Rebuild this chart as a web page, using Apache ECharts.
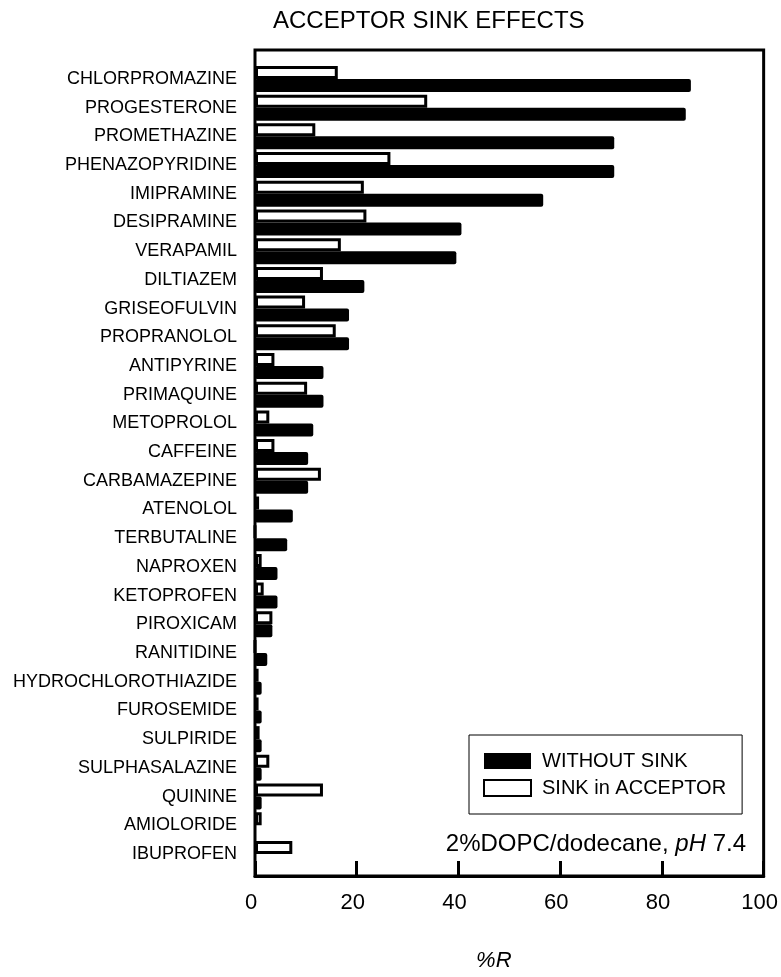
<!DOCTYPE html>
<html>
<head>
<meta charset="utf-8">
<title>Acceptor sink effects</title>
<script src="https://cdn.jsdelivr.net/npm/echarts@6/dist/echarts.min.js"></script>
<style>
  html, body { margin: 0; padding: 0; background: #fff; }
  #chart { width: 781px; height: 977px; }
</style>
</head>
<body>
<div id="chart"></div>
<script>
const categories = ['CHLORPROMAZINE', 'PROGESTERONE', 'PROMETHAZINE', 'PHENAZOPYRIDINE', 'IMIPRAMINE',
  'DESIPRAMINE', 'VERAPAMIL', 'DILTIAZEM', 'GRISEOFULVIN', 'PROPRANOLOL', 'ANTIPYRINE', 'PRIMAQUINE',
  'METOPROLOL', 'CAFFEINE', 'CARBAMAZEPINE', 'ATENOLOL', 'TERBUTALINE', 'NAPROXEN', 'KETOPROFEN',
  'PIROXICAM', 'RANITIDINE', 'HYDROCHLOROTHIAZIDE', 'FUROSEMIDE', 'SULPIRIDE', 'SULPHASALAZINE',
  'QUININE', 'AMIOLORIDE', 'IBUPROFEN'];
const withoutSink = [85.3, 84.3, 70.3, 70.3, 56.4, 40.4, 39.4, 21.4, 18.4, 18.4, 13.4, 13.4, 11.4, 10.4,
  10.4, 7.4, 6.3, 4.4, 4.4, 3.4, 2.4, 1.3, 1.3, 1.3, 1.3, 1.3, 0, 0];
const sinkInAcceptor = [16.2, 33.7, 11.8, 26.5, 21.3, 21.8, 16.8, 13.3, 9.8, 15.8, 3.8, 10.2, 2.8, 3.8,
  12.9, 0.8, 0, 1.3, 1.7, 3.4, 0, 0.7, 0.7, 0.9, 2.8, 13.3, 1.3, 7.3];
const xTicks = [0, 20, 40, 60, 80, 100];

const font = "'Liberation Sans', Arial, sans-serif";
const myChart = echarts.init(document.getElementById('chart'));

myChart.setOption({
  animation: false,
  textStyle: { fontFamily: font, color: '#000' },
  title: [
    {
      text: 'ACCEPTOR SINK EFFECTS',
      left: 273, top: 9, padding: 0,
      textStyle: { fontFamily: font, fontSize: 24, fontWeight: 'normal', color: '#000' }
    },
    {
      text: '{a|2%DOPC/dodecane, }{b|pH}{a| 7.4}',
      right: 35, top: 832, padding: 0,
      textStyle: {
        fontWeight: 'normal',
        rich: {
          a: { fontFamily: font, fontSize: 24, fontWeight: 'normal', color: '#000' },
          b: { fontFamily: font, fontSize: 24, fontWeight: 'normal', fontStyle: 'italic', color: '#000' }
        }
      }
    }
  ],
  legend: {
    data: ['WITHOUT SINK', 'SINK in ACCEPTOR'],
    orient: 'vertical',
    left: 469, top: 735,
    padding: [16, 16, 16, 14],
    borderColor: '#000', borderWidth: 1,
    icon: 'rect',
    itemWidth: 47, itemHeight: 16, itemGap: 7,
    textStyle: { fontFamily: font, fontSize: 20, color: '#000', lineHeight: 20, padding: [0, 0, 0, 6] }
  },
  grid: [
    // outer frame
    { left: 255, right: 15, top: 50, bottom: 94, show: true, borderColor: '#000', borderWidth: 3 },
    // bar area, inset by half a band top and bottom
    { left: 255, right: 15, top: 64.6, bottom: 108.7 }
  ],
  xAxis: [
    {
      gridIndex: 0, type: 'value', min: 0, max: 100, interval: 20,
      name: '%R', nameLocation: 'middle', nameGap: 74,
      nameTextStyle: { fontFamily: font, fontSize: 22, fontStyle: 'italic', color: '#000', padding: [0, 31, 0, 0] },
      axisLine: { lineStyle: { color: '#000', width: 3 } },
      axisTick: { inside: true, length: 15, lineStyle: { color: '#000', width: 3 } },
      axisLabel: {
        fontFamily: font, fontSize: 22, color: '#000', margin: 16, padding: [0, 8, 0, 0],
        formatter: v => (xTicks.includes(v) ? String(v) : '')
      },
      splitLine: { show: false }
    },
    { gridIndex: 1, type: 'value', min: 0, max: 100, show: false }
  ],
  yAxis: [
    { gridIndex: 0, type: 'value', show: false },
    {
      gridIndex: 1, type: 'category', data: categories, inverse: true,
      axisLine: { show: false },
      axisTick: { alignWithLabel: true, length: 7, lineStyle: { color: '#000', width: 2 } },
      axisLabel: { fontFamily: font, fontSize: 18, color: '#000', margin: 18 }
    }
  ],
  series: [
    {
      name: 'SINK in ACCEPTOR', type: 'bar', xAxisIndex: 1, yAxisIndex: 1,
      data: sinkInAcceptor, barWidth: 13, barGap: '0%',
      itemStyle: { color: '#fff', borderColor: '#000', borderWidth: 3 }
    },
    {
      name: 'WITHOUT SINK', type: 'bar', xAxisIndex: 1, yAxisIndex: 1,
      data: withoutSink, barWidth: 13, barGap: '0%',
      itemStyle: { color: '#000', borderRadius: 2 }
    }
  ]
});

window.addEventListener('resize', function() {
  myChart.resize();
});
</script>
</body>
</html>
